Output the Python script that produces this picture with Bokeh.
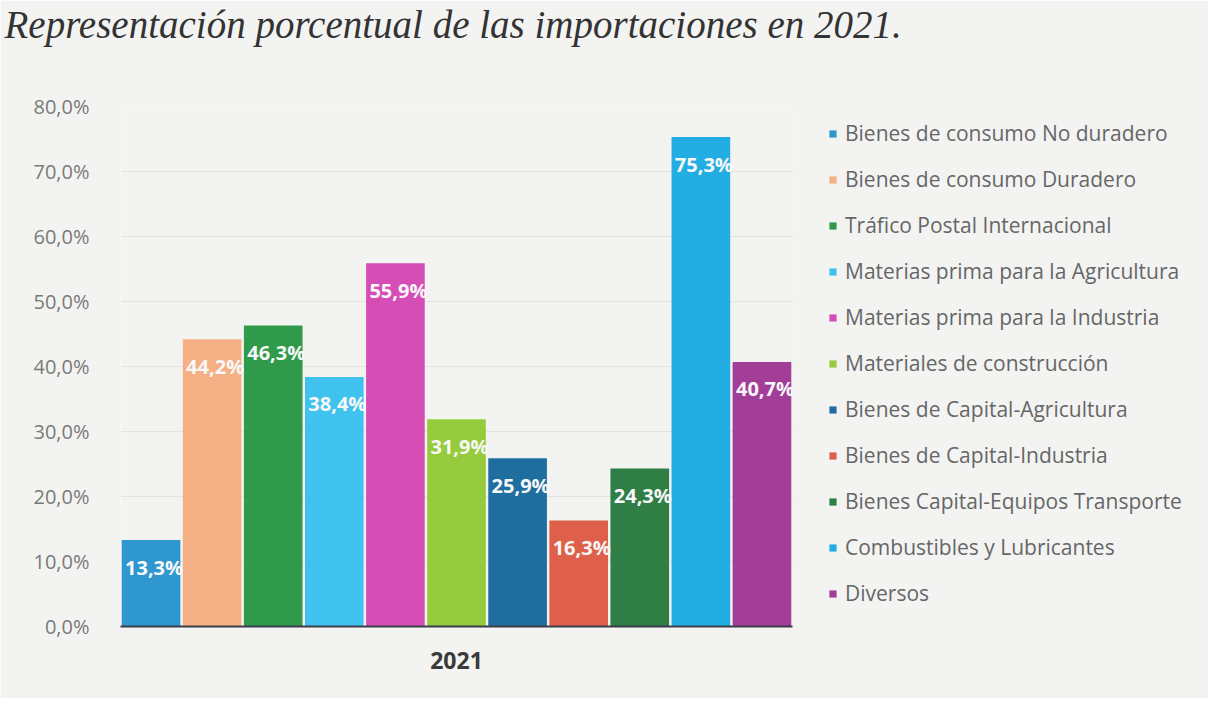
from bokeh.plotting import figure
from bokeh.models import (ColumnDataSource, Legend, LegendItem, FixedTicker, Title)
from bokeh.core.properties import value
from bokeh.embed import file_html
from bokeh.resources import INLINE

# ---- data ----
categories = [
    "Bienes de consumo No duradero",
    "Bienes de consumo Duradero",
    "Tráfico Postal Internacional",
    "Materias prima para la Agricultura",
    "Materias prima para la Industria",
    "Materiales de construcción",
    "Bienes de Capital-Agricultura",
    "Bienes de Capital-Industria",
    "Bienes Capital-Equipos Transporte",
    "Combustibles y Lubricantes",
    "Diversos",
]
values = [13.3, 44.2, 46.3, 38.4, 55.9, 31.9, 25.9, 16.3, 24.3, 75.3, 40.7]
colors = ["#2f97cf", "#f6b086", "#2f9a4a", "#40c2ef", "#d74db6", "#95cb3d",
          "#1f6e9f", "#df604a", "#2e7e46", "#23aee3", "#a23d98"]
year_label = "2021"
y_ticks = [0, 10, 20, 30, 40, 50, 60, 70, 80]
y_tick_labels = ["0,0%", "10,0%", "20,0%", "30,0%", "40,0%", "50,0%", "60,0%", "70,0%", "80,0%"]
title_text = "Representación porcentual de las importaciones en 2021."

n = len(categories)
xs = [i + 0.5 for i in range(n)]
labels = [("%.1f%%" % v).replace(".", ",") for v in values]

src = ColumnDataSource(dict(x=xs, top=values, color=colors, cat=categories, lab=labels))

BG = "#f3f4f2"
FONT = "Open Sans"

p = figure(frame_width=672, frame_height=520, x_range=(0, n), y_range=(0, 80),
           output_backend="svg", toolbar_location=None,
           min_border_left=120, min_border_top=0, min_border_bottom=72,
           min_border_right=0,
           background_fill_color=BG, border_fill_color=BG, outline_line_color=None)

r = p.vbar(x="x", top="top", width=0.96, bottom=0, color="color", source=src, line_color=None)

p.text(x="x", y="top", text="lab", source=src, text_color="#f8f8f8",
       text_font=value(FONT), text_font_style="bold", text_font_size="20px",
       text_align="center", text_baseline="middle", y_offset=27, x_offset=3)

# axes
p.yaxis.ticker = FixedTicker(ticks=y_ticks)
p.yaxis.major_label_overrides = {t: l for t, l in zip(y_ticks, y_tick_labels)}
p.yaxis.axis_line_color = None
p.yaxis.major_tick_line_color = None
p.yaxis.minor_tick_line_color = None
p.yaxis.major_label_text_color = "#7a7a7a"
p.yaxis.major_label_text_font = FONT
p.yaxis.major_label_text_font_size = "20px"
p.yaxis.major_label_standoff = 25

p.xaxis.ticker = FixedTicker(ticks=[n / 2])
p.xaxis.major_label_overrides = {n / 2: year_label}
p.xaxis.axis_line_color = "#3a3d4a"
p.xaxis.axis_line_width = 2
p.xaxis.major_tick_line_color = None
p.xaxis.minor_tick_line_color = None
p.xaxis.major_label_text_color = "#3a3a3a"
p.xaxis.major_label_text_font = FONT
p.xaxis.major_label_text_font_style = "bold"
p.xaxis.major_label_text_font_size = "23px"
p.xaxis.major_label_standoff = 19

p.xgrid.grid_line_color = None
p.ygrid.grid_line_color = "#dcdcdc"
p.ygrid.grid_line_alpha = 0.7

# legend
items = [LegendItem(label=c, renderers=[r], index=i) for i, c in enumerate(categories)]
legend = Legend(items=items, location=(36, 18), padding=0, margin=0,
                glyph_width=9, glyph_height=9, label_height=30, spacing=16,
                label_standoff=8, label_text_font=FONT, label_text_font_size="21px",
                label_text_color="#666666", border_line_color=None,
                background_fill_alpha=0)
p.add_layout(legend, "right")
p.min_border_right = 10

# spacer (closest to frame) then caption (outermost)
spacer = Title(text=" ", standoff=57, text_font_size="2px", text_color=BG)
p.add_layout(spacer, "above")
cap = Title(text=title_text, align="left", offset=-116, standoff=0,
            text_font="Liberation Serif", text_font_style="italic",
            text_font_size="39px", text_color="#333333")
p.add_layout(cap, "above")

open("out.html", "w").write(file_html(p, INLINE))
